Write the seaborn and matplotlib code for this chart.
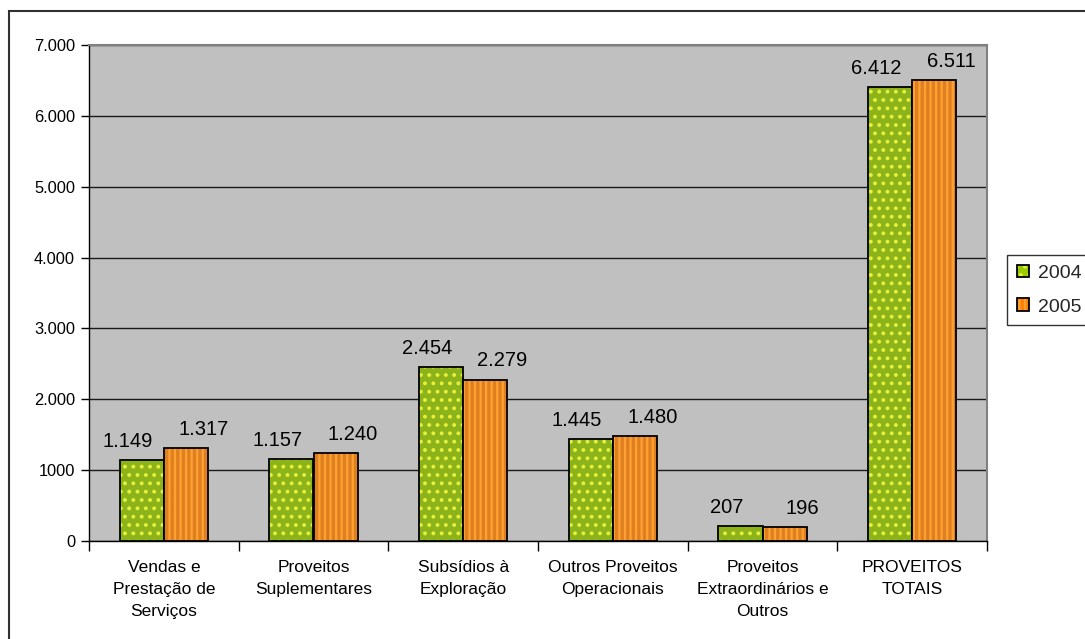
import matplotlib
matplotlib.use("Agg")
import matplotlib.pyplot as plt
import matplotlib.colors as mcolors
from matplotlib.patches import Rectangle
import seaborn as sns
import pandas as pd

categories = ["Vendas e\nPrestação de\nServiços", "Proveitos\nSuplementares",
              "Subsídios à\nExploração", "Outros Proveitos\nOperacionais",
              "Proveitos\nExtraordinários e\nOutros", "PROVEITOS\nTOTAIS"]
years = ["2004", "2005"]
values_2004 = [1149, 1157, 2454, 1445, 207, 6412]
values_2005 = [1317, 1240, 2279, 1480, 196, 6511]
labels_2004 = ["1.149", "1.157", "2.454", "1.445", "207", "6.412"]
labels_2005 = ["1.317", "1.240", "2.279", "1.480", "196", "6.511"]
yticks = [0, 1000, 2000, 3000, 4000, 5000, 6000, 7000]
ytick_labels = ["0", "1000", "2.000", "3.000", "4.000", "5.000", "6.000", "7.000"]

sns.set_style("white")
plt.rcParams['font.family'] = ['Liberation Sans', 'DejaVu Sans']
plt.rcParams['hatch.linewidth'] = 1.6

df = pd.DataFrame({
    "cat": categories * 2,
    "year": [years[0]] * 6 + [years[1]] * 6,
    "value": values_2004 + values_2005,
})

fill = {"2004": "#99CC00", "2005": "#FF8000"}
hatch_col = {"2004": "#E6F03C", "2005": "#FFA033"}
hatch_pat = {"2004": "..", "2005": "|||"}

fig = plt.figure(figsize=(10.85, 6.39), dpi=100)
ax = fig.add_axes([89/1085, 1 - 541/639, (987-89)/1085, (541-45)/639])
ax.set_facecolor("#C0C0C0")

sns.barplot(data=df, x="cat", y="value", hue="year", hue_order=years,
            order=categories, palette=fill, width=0.59, gap=0,
            edgecolor="black", linewidth=1.3, legend=False, ax=ax, zorder=3,
            err_kws={"linewidth": 0})

bars = [p for p in ax.patches if isinstance(p, Rectangle)]
for i, p in enumerate(bars[:12]):
    yr = years[i // 6]
    p.set_hatch(hatch_pat[yr])
    p._hatch_color = mcolors.to_rgba(hatch_col[yr])

# data labels (Excel places them spread outward from the bar pair)
x_shift_pt = [-10, 12.5]
for k, (cont, labs) in enumerate(zip(ax.containers, [labels_2004, labels_2005])):
    for p, lab in zip(cont.patches, labs):
        ax.annotate(lab, (p.get_x() + p.get_width() / 2, p.get_height()),
                    xytext=(x_shift_pt[k], 6.5), textcoords="offset points",
                    ha="center", va="bottom", fontsize=14.5, color="black",
                    zorder=5)

ax.set_xlim(-0.5, 5.5)
ax.set_ylim(0, 7000)
ax.set_yticks(yticks)
ax.set_yticklabels(ytick_labels, fontsize=11.8)
ax.yaxis.grid(True, color="#1a1a1a", linewidth=1.0, zorder=0)
ax.set_axisbelow(True)
ax.tick_params(axis="y", length=6, width=1, color="black", direction="out", left=True, pad=4, labelcolor="black")
ax.set_xticks(range(6))
ax.set_xticklabels(categories, fontsize=12.5, linespacing=1.55, color="black")
ax.tick_params(axis="x", which="major", length=0, pad=14)
ax.set_xticks([i - 0.5 for i in range(7)], minor=True)
ax.tick_params(axis="x", which="minor", length=7, width=1, color="black", direction="out", bottom=True)
ax.set_xlabel("")
ax.set_ylabel("")
for s in ["left", "bottom"]:
    ax.spines[s].set_color("black")
    ax.spines[s].set_linewidth(1.0)
for s in ["top", "right"]:
    ax.spines[s].set_color("#808080")
    ax.spines[s].set_linewidth(1.5)

# outer chart border
fig.patches.append(Rectangle((9/1085, -0.1), 1.2, 1 - 11/639 + 0.1,
                             transform=fig.transFigure, fill=False,
                             edgecolor="#303030", linewidth=1.5, zorder=0))

handles = []
for yr in years:
    h = Rectangle((0, 0), 1, 1, facecolor=fill[yr], edgecolor="black",
                  linewidth=1.3, hatch=hatch_pat[yr])
    h._hatch_color = mcolors.to_rgba(hatch_col[yr])
    handles.append(h)
leg = fig.legend(handles, years, loc="upper left",
                 bbox_to_anchor=(1007/1085, 1 - 255/639), fontsize=14,
                 frameon=True, fancybox=False, edgecolor="black",
                 handlelength=0.62, handleheight=0.62, handletextpad=0.45,
                 labelspacing=0.85, borderpad=0.5, borderaxespad=0)
leg.get_frame().set_linewidth(1.0)

fig.savefig("out.png", dpi=100, facecolor="white")
